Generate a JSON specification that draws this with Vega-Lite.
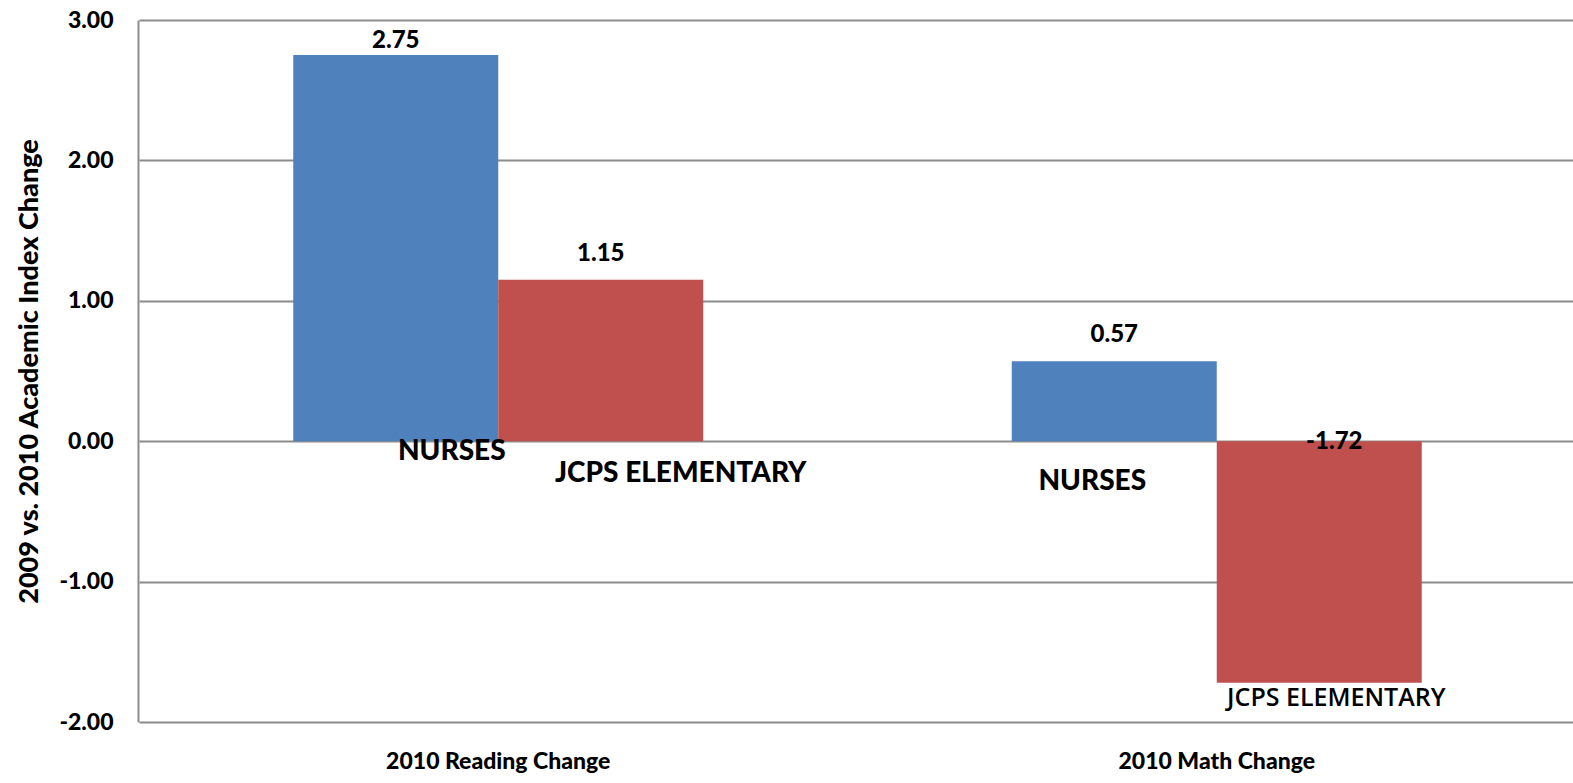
{
  "$schema": "https://vega.github.io/schema/vega-lite/v6.json",
  "width": 1430,
  "height": 702,
  "autosize": "none",
  "padding": {"left": 138, "top": 20, "right": 5, "bottom": 61},
  "background": "white",
  "config": {
    "view": {"stroke": null},
    "font": "Lato",
    "locale": {"number": {"decimal": ".", "thousands": ",", "grouping": [3], "currency": ["$", ""], "minus": "-"}}
  },
  "data": {
    "values": [
      {"category": "2010 Reading Change", "group": "NURSES", "value": 2.75},
      {"category": "2010 Reading Change", "group": "JCPS ELEMENTARY", "value": 1.15},
      {"category": "2010 Math Change", "group": "NURSES", "value": 0.57},
      {"category": "2010 Math Change", "group": "JCPS ELEMENTARY", "value": -1.72}
    ]
  },
  "encoding": {
    "x": {
      "field": "category",
      "type": "nominal",
      "sort": ["2010 Reading Change", "2010 Math Change"],
      "scale": {"paddingInner": 0, "paddingOuter": 0, "range": [1, 1438]},
      "axis": {
        "title": null,
        "labelAngle": 0,
        "labelFont": "Lato",
        "labelFontWeight": 900,
        "labelFontSize": 23,
        "labelColor": "black",
        "labelPadding": 28,
        "labelLimit": 0,
        "ticks": false,
        "domain": false
      }
    },
    "xOffset": {
      "field": "group",
      "type": "nominal",
      "sort": ["NURSES", "JCPS ELEMENTARY"],
      "scale": {"paddingOuter": 0.7524, "paddingInner": 0}
    },
    "y": {
      "field": "value",
      "type": "quantitative",
      "scale": {"domain": [-2, 3], "nice": false},
      "axis": {
        "title": "2009 vs. 2010 Academic Index Change",
        "titleFont": "Lato",
        "titleFontWeight": 900,
        "titleFontSize": 27,
        "titleColor": "black",
        "titlePadding": 15,
        "values": [-2, -1, 0, 1, 2, 3],
        "format": ".2f",
        "labelFont": "Lato",
        "labelFontWeight": 900,
        "labelFontSize": 23,
        "labelColor": "black",
        "labelPadding": 25,
        "ticks": false,
        "domain": true,
        "domainColor": "#8c8c8c",
        "domainWidth": 2,
        "grid": true,
        "gridColor": "#8c8c8c",
        "gridWidth": 2
      }
    }
  },
  "layer": [
    {
      "mark": {"type": "bar"},
      "encoding": {
        "color": {
          "field": "group",
          "type": "nominal",
          "scale": {"domain": ["NURSES", "JCPS ELEMENTARY"], "range": ["#4F81BD", "#C0504D"]},
          "legend": null
        }
      }
    },
    {
      "transform": [{"filter": "datum.value > 2"}],
      "mark": {"type": "text", "baseline": "bottom", "dy": -2, "font": "Lato", "fontWeight": 900, "fontSize": 24, "color": "black"},
      "encoding": {"text": {"field": "value", "type": "quantitative", "format": ".2f"}}
    },
    {
      "transform": [{"filter": "datum.value > 0 && datum.value < 2"}],
      "mark": {"type": "text", "baseline": "bottom", "dy": -14, "font": "Lato", "fontWeight": 900, "fontSize": 24, "color": "black"},
      "encoding": {"text": {"field": "value", "type": "quantitative", "format": ".2f"}}
    },
    {
      "transform": [{"filter": "datum.value < 0"}],
      "mark": {"type": "text", "baseline": "middle", "dx": 15, "dy": 1, "font": "Lato", "fontWeight": 900, "fontSize": 24, "color": "black"},
      "encoding": {
        "y": {"datum": 0},
        "text": {"field": "value", "type": "quantitative", "format": ".2f"}
      }
    },
    {
      "transform": [{"filter": "datum.category == '2010 Reading Change' && datum.group == 'NURSES'"}],
      "mark": {"type": "text", "baseline": "middle", "dx": 56, "dy": 11, "font": "Lato", "fontWeight": 900, "fontSize": 28, "color": "black"},
      "encoding": {"y": {"datum": 0}, "text": {"field": "group"}}
    },
    {
      "transform": [{"filter": "datum.category == '2010 Reading Change' && datum.group == 'JCPS ELEMENTARY'"}],
      "mark": {"type": "text", "baseline": "middle", "dx": 80, "dy": 33, "font": "Lato", "fontWeight": 900, "fontSize": 28, "color": "black"},
      "encoding": {"y": {"datum": 0}, "text": {"field": "group"}}
    },
    {
      "transform": [{"filter": "datum.category == '2010 Math Change' && datum.group == 'NURSES'"}],
      "mark": {"type": "text", "baseline": "middle", "dx": -22, "dy": 41, "font": "Lato", "fontWeight": 900, "fontSize": 28, "color": "black"},
      "encoding": {"y": {"datum": 0}, "text": {"field": "group"}}
    },
    {
      "transform": [{"filter": "datum.category == '2010 Math Change' && datum.group == 'JCPS ELEMENTARY'"}],
      "mark": {"type": "text", "baseline": "middle", "dx": 17, "dy": 15, "font": "Open Sans", "fontWeight": 600, "fontSize": 25, "color": "black"},
      "encoding": {"text": {"field": "group"}}
    }
  ]
}
